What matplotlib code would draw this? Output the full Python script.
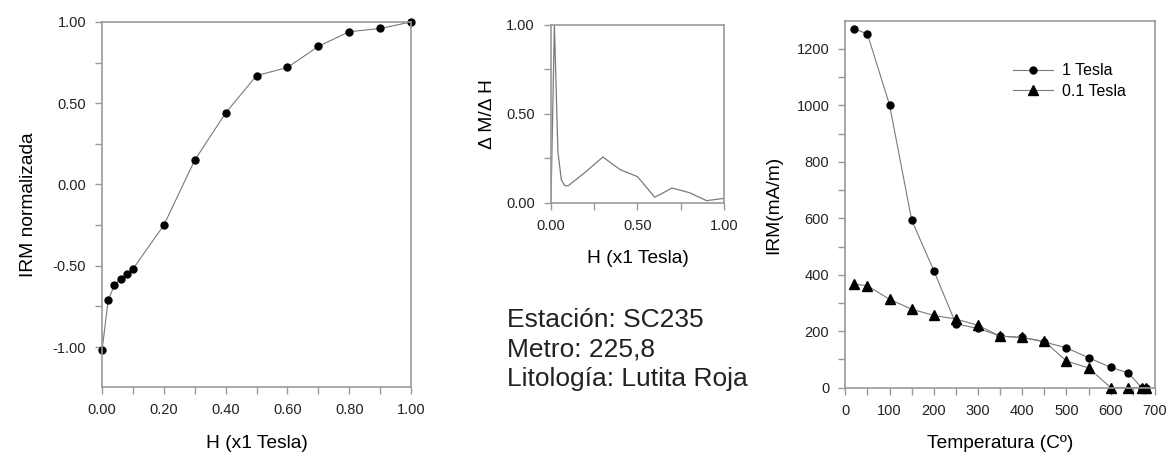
import numpy as np
import matplotlib.pyplot as plt
from matplotlib.ticker import MultipleLocator

plt.rcParams['font.family'] = ['Liberation Sans', 'DejaVu Sans']

# IRM acquisition curve
h = [0, 0.02, 0.04, 0.06, 0.08, 0.1, 0.2, 0.3, 0.4, 0.5, 0.6, 0.7, 0.8, 0.9, 1.0]
irm_norm = [-1.02, -0.71, -0.62, -0.58, -0.55, -0.52, -0.25, 0.15, 0.44, 0.67, 0.72, 0.85, 0.94, 0.96, 1.00]

# derivative dM/dH
h_d = [0, 0.02, 0.04, 0.06, 0.08, 0.1, 0.2, 0.3, 0.4, 0.5, 0.6, 0.7, 0.8, 0.9, 1.0]
dmdh = [0, 1.0, 0.29, 0.13, 0.097, 0.097, 0.174, 0.258, 0.187, 0.148, 0.032, 0.084, 0.058, 0.013, 0.026]

# thermal demagnetization
temp = [20, 50, 100, 150, 200, 250, 300, 350, 400, 450, 500, 550, 600, 640, 670, 680]
irm_1t = [1272, 1253, 1002, 594, 415, 226, 210, 183, 178, 162, 141, 106, 72, 52, 0, 0]
irm_01t = [367, 361, 313, 278, 256, 243, 221, 182, 178, 164, 94, 70, 0, 0, 0, 0]

info = ["Estación: SC235", "Metro: 225,8", "Litología: Lutita Roja"]

spine_c = '#999999'
line_c = '#7a7a7a'
lab_fs = 13.8

fig = plt.figure(figsize=(11.69, 4.57), dpi=100)


def style(ax):
    for s in ax.spines.values():
        s.set_color(spine_c)
        s.set_linewidth(1.2)
    ax.tick_params(which='both', direction='out', length=5, width=1, color=spine_c,
                   labelsize=10.5, labelcolor='#222222', pad=6.5)


ax1 = fig.add_axes([0.0873, 0.1532, 0.2643, 0.7987])
ax1.plot(h, irm_norm, color=line_c, lw=0.8, marker='o', ms=5, mfc='black', mec='black', clip_on=False)
ax1.set_xlim(0, 1)
ax1.set_ylim(-1.246, 1.0)
ax1.xaxis.set_major_locator(MultipleLocator(0.2))
ax1.xaxis.set_minor_locator(MultipleLocator(0.1))
ax1.yaxis.set_major_locator(MultipleLocator(0.5))
ax1.yaxis.set_minor_locator(MultipleLocator(0.25))
ax1.xaxis.set_major_formatter(lambda v, p: f"{v:.2f}")
ax1.yaxis.set_major_formatter(lambda v, p: f"{v:.2f}")
style(ax1)
ax1.set_xlabel("H (x1 Tesla)", fontsize=lab_fs)
ax1.set_ylabel("IRM normalizada", fontsize=lab_fs)
ax1.xaxis.set_label_coords(0.5, -0.132)
ax1.yaxis.set_label_coords(-0.212, 0.5)

ax2 = fig.add_axes([0.4713, 0.5558, 0.148, 0.390])
ax2.plot(h_d, dmdh, color=line_c, lw=0.9)
ax2.set_xlim(0, 1)
ax2.set_ylim(0, 1)
ax2.xaxis.set_major_locator(MultipleLocator(0.5))
ax2.xaxis.set_minor_locator(MultipleLocator(0.25))
ax2.yaxis.set_major_locator(MultipleLocator(0.5))
ax2.yaxis.set_minor_locator(MultipleLocator(0.25))
ax2.xaxis.set_major_formatter(lambda v, p: f"{v:.2f}")
ax2.yaxis.set_major_formatter(lambda v, p: f"{v:.2f}")
style(ax2)
ax2.set_xlabel("H (x1 Tesla)", fontsize=lab_fs)
ax2.set_ylabel("Δ M/Δ H", fontsize=lab_fs)
ax2.xaxis.set_label_coords(0.5, -0.265)
ax2.yaxis.set_label_coords(-0.318, 0.5)

for i, t in enumerate(info):
    fig.text(0.4337, 1 - (327 + i * 29.6) / 457, t, fontsize=19, va='baseline', ha='left', color='#222222')

ax3 = fig.add_axes([0.7231, 0.1517, 0.2649, 0.8017])
ax3.plot(temp, irm_1t, color=line_c, lw=0.8, marker='o', ms=5, mfc='black', mec='black',
         clip_on=False, label="1 Tesla")
ax3.plot(temp, irm_01t, color=line_c, lw=0.8, marker='^', ms=7.5, mfc='black', mec='black',
         clip_on=False, label="0.1 Tesla")
ax3.set_xlim(0, 700)
ax3.set_ylim(0, 1298)
ax3.xaxis.set_major_locator(MultipleLocator(100))
ax3.xaxis.set_minor_locator(MultipleLocator(50))
ax3.yaxis.set_major_locator(MultipleLocator(200))
ax3.yaxis.set_minor_locator(MultipleLocator(100))
style(ax3)
ax3.set_xlabel("Temperatura (Cº)", fontsize=lab_fs)
ax3.set_ylabel("IRM(mA/m)", fontsize=lab_fs)
ax3.xaxis.set_label_coords(0.5, -0.13)
ax3.yaxis.set_label_coords(-0.204, 0.5)
ax3.legend(loc='upper left', bbox_to_anchor=(0.52, 0.903), frameon=False, fontsize=11.5,
           handlelength=2.5, handletextpad=0.6, labelspacing=0.35, borderaxespad=0)

fig.savefig("out.png", dpi=100)
